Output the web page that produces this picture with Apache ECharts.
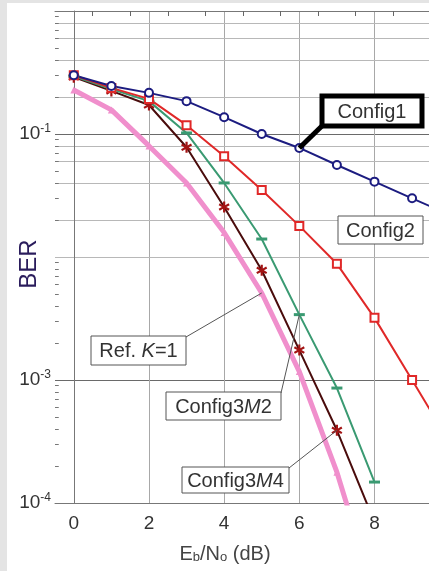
<!DOCTYPE html>
<html>
<head>
<meta charset="utf-8">
<script src="https://cdn.jsdelivr.net/npm/echarts@6/dist/echarts.min.js"></script>
<style>
  html, body { margin: 0; padding: 0; background: #fff; }
  #chart { width: 429px; height: 571px; }
</style>
</head>
<body>
<div id="chart"></div>
<script>
// Eb/No (dB) and BER
const ebno = [0, 1, 2, 3, 4, 5, 6, 7, 8, 9, 10];
const config1 = [0.30, 0.246, 0.216, 0.185, 0.137, 0.100, 0.077, 0.056, 0.041, 0.030, 0.022];
const config2 = [0.30, 0.237, 0.193, 0.118, 0.066, 0.035, 0.0179, 0.0088, 0.0032, 0.0010, 0.00031];
const config3M2 = [0.295, 0.232, 0.185, 0.102, 0.040, 0.014, 0.0034, 0.00086, 0.000148];
const config3M4 = [0.29, 0.224, 0.172, 0.078, 0.0255, 0.0078, 0.00175, 0.00039, 0.00007];
const refK1 = [0.228, 0.157, 0.080, 0.040, 0.0158, 0.0051, 0.00117, 0.000178, 0.000018];

const xTicks = [0, 2, 4, 6, 8];
const topTicks = [0.5, 1.5, 2.5, 3.5, 4.5, 5.5, 6.5, 7.5, 8.5];
const yLabelExps = [-1, -3, -4];
const minorGrid = [0.8, 0.6, 0.4, 0.2, 0.08, 0.06, 0.04, 0.02, 0.008, 0.006, 0.004, 0.002, 0.0008, 0.0006, 0.0004, 0.0002];
const minorTicks = [0.9, 0.7, 0.5, 0.3, 0.09, 0.07, 0.05, 0.03, 0.009, 0.007, 0.005, 0.003, 0.0009, 0.0007, 0.0005, 0.0003];

const xMin = -0.5, xMax = 9.45;
const font = "'Liberation Sans', Arial, sans-serif";
const starPath = "path://M4,0 L6,0 L6,3.3 L9,1.6 L10,3.3 L7,5 L10,6.7 L9,8.4 L6,6.7 L6,10 L4,10 L4,6.7 L1,8.4 L0,6.7 L3,5 L0,3.3 L1,1.6 L4,3.3 Z";

function toData(arr) {
  return arr.map((v, i) => [ebno[i], v]);
}

let chartDom = document.getElementById("chart");
let myChart = echarts.init(chartDom);
let option;

// grid lines at 2,4,6,8 x 10^n, small ticks on the left axis
const gridMarks = []
  .concat(xTicks.map(v => ({ xAxis: v, lineStyle: { color: "#a8a8a8", width: 1, type: "solid" } })))
  .concat(minorGrid.map(v => ({ yAxis: v, lineStyle: { color: "#b8b8b8", width: 1, type: "solid" } })))
  .concat(minorTicks.concat(minorGrid).map(v => [
    { coord: [xMin, v], lineStyle: { color: "#777", width: 1, type: "solid" } },
    { coord: [xMin + 0.1, v] }
  ]));

option = {
  animation: false,
  grid: { left: 55, right: 0, top: 11, bottom: 68 },
  xAxis: [
    {
      type: "value",
      min: xMin,
      max: xMax,
      axisLine: { lineStyle: { color: "#777", width: 1 } },
      axisTick: { show: false },
      splitLine: { show: false },
      axisLabel: {
        customValues: xTicks,
        margin: 11,
        fontSize: 19,
        fontFamily: font,
        color: "#333"
      }
    },
    {
      type: "value",
      position: "top",
      min: xMin,
      max: xMax,
      axisLine: { onZero: false, lineStyle: { color: "#777", width: 1 } },
      axisTick: { customValues: topTicks, inside: true, length: 5, lineStyle: { color: "#666" } },
      axisLabel: { show: false },
      splitLine: { show: false }
    }
  ],
  yAxis: {
    type: "log",
    logBase: 10,
    min: 1e-4,
    max: 1,
    axisLine: { show: true, lineStyle: { color: "#777", width: 1 } },
    axisTick: { show: false },
    splitLine: { show: true, lineStyle: { color: "#6a6a6a", width: 1.2 } },
    axisLabel: {
      margin: 4,
      fontFamily: font,
      formatter: v => {
        const e = Math.round(Math.log10(v));
        return yLabelExps.includes(e) ? "{b|10}{s|" + e + "}" : "";
      },
      rich: {
        b: { fontSize: 19, lineHeight: 22, color: "#333", fontFamily: font },
        s: { fontSize: 12, lineHeight: 14, verticalAlign: "top", color: "#333", fontFamily: font }
      }
    }
  },
  series: [
    {
      name: "grid",
      type: "line",
      data: [],
      z: 0,
      silent: true,
      markLine: {
        silent: true,
        z: 0,
        symbol: ["none", "none"],
        label: { show: false },
        emphasis: { disabled: true },
        data: gridMarks
      }
    },
    {
      name: "Ref. K=1",
      type: "line",
      data: toData(refK1),
      symbol: "triangle",
      symbolSize: 7,
      lineStyle: { color: "#f08fcc", width: 5 },
      itemStyle: { color: "#f08fcc" }
    },
    {
      name: "Config3M4",
      type: "line",
      data: toData(config3M4),
      symbol: starPath,
      symbolSize: 11,
      lineStyle: { color: "#4a0c0c", width: 2 },
      itemStyle: { color: "#a31414" }
    },
    {
      name: "Config3M2",
      type: "line",
      data: toData(config3M2),
      symbol: "rect",
      symbolSize: [11, 3],
      lineStyle: { color: "#3a9a72", width: 2 },
      itemStyle: { color: "#3a9a72" }
    },
    {
      name: "Config2",
      type: "line",
      data: toData(config2),
      symbol: "emptyRect",
      symbolSize: 8,
      lineStyle: { color: "#e02828", width: 2 },
      itemStyle: { color: "#e02828", borderWidth: 1.5 }
    },
    {
      name: "Config1",
      type: "line",
      data: toData(config1),
      symbol: "emptyCircle",
      symbolSize: 8,
      lineStyle: { color: "#1c1c80", width: 2 },
      itemStyle: { color: "#1c1c80", borderWidth: 1.5 }
    }
  ]
};

option && myChart.setOption(option);

// annotations: leader lines run to the data points
const px = (x, y) => myChart.convertToPixel({ xAxisIndex: 0, yAxisIndex: 0 }, [x, y]);
const p1 = px(6, config1[6]);
const pRef = px(5, refK1[5]);
const pM2 = px(6, config3M2[6]);
const pM4 = px(7, config3M4[7]);

function box(x, y, w, h, rich, text, lw, stroke) {
  return [
    {
      type: "rect",
      z: 20,
      shape: { x: x, y: y, width: w, height: h },
      style: { fill: "#fff", stroke: stroke, lineWidth: lw }
    },
    {
      type: "text",
      z: 21,
      x: x + w / 2,
      y: y + h / 2 + 1,
      style: {
        text: text,
        rich: rich,
        align: "center",
        verticalAlign: "middle",
        fontSize: 20,
        fontFamily: font,
        fill: "#333"
      }
    }
  ];
}
const ital = {
  i: { fontStyle: "italic", fontSize: 20, fontFamily: font, fill: "#333" }
};
const leader = (a, b, w, c) => ({
  type: "line",
  z: 19,
  shape: { x1: a[0], y1: a[1], x2: b[0], y2: b[1] },
  style: { stroke: c, lineWidth: w }
});

myChart.setOption({
  graphic: [
    { type: "rect", z: 30, shape: { x: 0, y: 0, width: 7, height: 571 }, style: { fill: "#e4e4e4" } },
    { type: "rect", z: 30, shape: { x: 0, y: 0, width: 429, height: 3 }, style: { fill: "#e4e4e4" } },
    leader(p1, [324, 124], 5, "#000"),
    leader(pRef, [186, 337], 1, "#555"),
    leader(pM2, [281, 393], 1, "#555"),
    leader(pM4, [289, 468], 1, "#555"),
    ...box(322, 96, 100, 30, null, "Config1", 5, "#000"),
    ...box(338, 216, 85, 28, null, "Config2", 1, "#555"),
    ...box(91, 336, 95, 29, ital, "Ref. {i|K}=1", 1, "#555"),
    ...box(166, 392, 115, 28, ital, "Config3{i|M}2", 1, "#555"),
    ...box(182, 467, 107, 26, ital, "Config3{i|M}4", 1, "#555"),
    {
      type: "text",
      z: 20,
      x: 29,
      y: 264,
      rotation: Math.PI / 2,
      style: { text: "BER", fontSize: 24, fontFamily: font, fill: "#2a1c5c", align: "center", verticalAlign: "middle" }
    },
    {
      type: "text",
      z: 20,
      x: 225,
      y: 554,
      style: {
        text: "E{s|b}/N{s|o} (dB)",
        fontSize: 20,
        fontFamily: font,
        fill: "#444",
        align: "center",
        verticalAlign: "middle",
        rich: {
          s: { fontSize: 13, lineHeight: 12, verticalAlign: "bottom", fontFamily: font, fill: "#444" }
        }
      }
    }
  ]
});
</script>
</body>
</html>
